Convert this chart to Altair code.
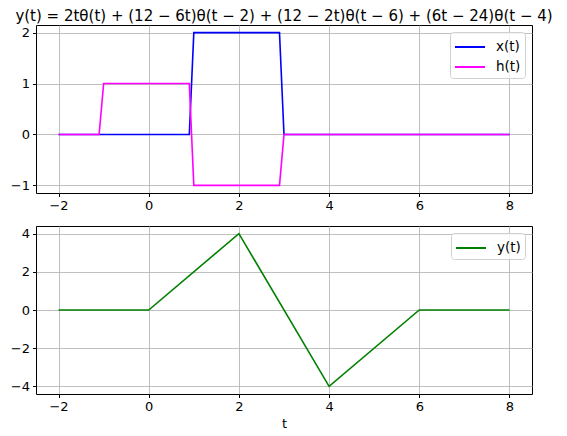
import altair as alt
import pandas as pd

# breakpoints
x_t = [-2.0, 0.9, 1.0, 2.9, 3.0, 8.0]
x_v = [0, 0, 2, 2, 0, 0]
h_t = [-2.0, -1.1, -1.0, 0.9, 1.0, 2.9, 3.0, 8.0]
h_v = [0, 0, 1, 1, -1, -1, 0, 0]
y_t = [-2, 0, 2, 4, 6, 8]
y_v = [0, 0, 4, -4, 0, 0]

x_ticks = [-2, 0, 2, 4, 6, 8]
top_ticks = [-1, 0, 1, 2]
bot_ticks = [-4, -2, 0, 2, 4]

title_text = "y(t) = 2tθ(t) + (12 − 6t)θ(t − 2) + (12 − 2t)θ(t − 6) + (6t − 24)θ(t − 4)"

top_df = pd.DataFrame(
    {"t": x_t + h_t,
     "v": x_v + h_v,
     "series": ["x(t)"] * len(x_t) + ["h(t)"] * len(h_t),
     "order": list(range(len(x_t))) + list(range(len(h_t)))}
)
bot_df = pd.DataFrame({"t": y_t, "v": y_v, "series": ["y(t)"] * len(y_t)})

FONT = "DejaVu Sans"

def xaxis(title=None):
    kw = dict(values=x_ticks, grid=True, gridColor="#b0b0b0", gridWidth=0.8,
              tickColor="black", tickSize=3.5, labelColor="black", labelFontSize=13,
              labelFont=FONT, domain=False, labelPadding=3,
              labelExpr="replace(datum.label, '-', '−')")
    if title:
        kw.update(title=title, titleFontSize=13, titleFont=FONT, titleFontWeight="normal",
                  titleColor="black", titlePadding=4)
    else:
        kw.update(title=None)
    return alt.Axis(**kw)

def yaxis(vals):
    return alt.Axis(values=vals, grid=True, gridColor="#b0b0b0", gridWidth=0.8,
                    tickColor="black", tickSize=3.5, labelColor="black", labelFontSize=13,
                    labelFont=FONT, domain=False, title=None, labelPadding=3,
                    labelExpr="replace(datum.label, '-', '−')")

legend_kw = dict(orient="top-right", title=None, offset=7, padding=4,
                 strokeColor="#d0d0d0", fillColor="rgba(255,255,255,0.8)", cornerRadius=3,
                 labelFontSize=13.5, labelFont=FONT, labelColor="black", labelOffset=20,
                 symbolType="M-1,0H2", symbolSize=400, symbolStrokeWidth=2, rowPadding=2)

view = alt.ViewBackground(stroke="black", strokeWidth=1)

top = alt.Chart(top_df).mark_line(strokeWidth=1.6, clip=True).encode(
    x=alt.X("t:Q", scale=alt.Scale(domain=[-2.5, 8.5], nice=False, zero=False), axis=xaxis()),
    y=alt.Y("v:Q", scale=alt.Scale(domain=[-1.15, 2.15], nice=False, zero=False), axis=yaxis(top_ticks)),
    color=alt.Color("series:N", sort=["x(t)", "h(t)"],
                    scale=alt.Scale(domain=["x(t)", "h(t)"], range=["#0000ff", "#ff00ff"]),
                    legend=alt.Legend(**legend_kw)),
    order="order:Q",
).properties(width=496, height=168, view=view,
             title=alt.TitleParams(title_text, fontSize=15, font=FONT, fontWeight="normal",
                                   color="black", anchor="middle", offset=1))

bot = alt.Chart(bot_df).mark_line(strokeWidth=1.6, clip=True).encode(
    x=alt.X("t:Q", scale=alt.Scale(domain=[-2.5, 8.5], nice=False, zero=False), axis=xaxis("t")),
    y=alt.Y("v:Q", scale=alt.Scale(domain=[-4.4, 4.4], nice=False, zero=False), axis=yaxis(bot_ticks)),
    color=alt.Color("series:N", scale=alt.Scale(domain=["y(t)"], range=["#008000"]),
                    legend=alt.Legend(**legend_kw)),
).properties(width=496, height=168, view=view)

chart = alt.vconcat(top, bot, spacing=12).resolve_scale(color="independent").properties(
    padding={"left": 1, "top": 0, "right": 0, "bottom": 0}
).configure_view(stroke="black", strokeWidth=1).configure(background="white")

chart.save("out.html", embed_options={"renderer": "svg", "actions": False})
